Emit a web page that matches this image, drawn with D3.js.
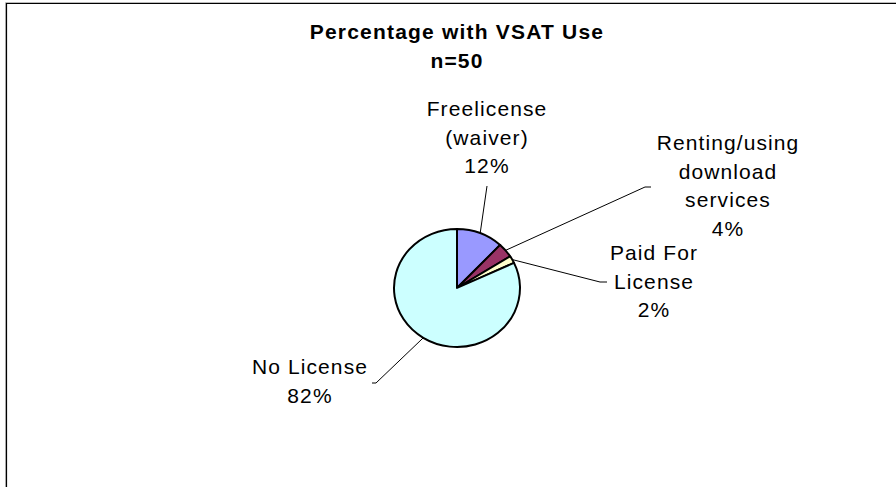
<!DOCTYPE html>
<html>
<head>
<meta charset="utf-8">
<script src="https://cdn.jsdelivr.net/npm/d3@7"></script>
<style>
  html, body { margin: 0; padding: 0; background: #fff; }
  svg { display: block; }
  text { font-family: "Liberation Sans", Arial, sans-serif; fill: #000; }
</style>
</head>
<body>
<div id="chart"></div>
<script>
'use strict';

// chart data
var categories = ["Freelicense (waiver)", "Renting/using download services", "Paid For License", "No License"];
var values = [12, 4, 2, 82];
var labelLines = [
  ["Freelicense", "(waiver)"],
  ["Renting/using", "download", "services"],
  ["Paid For", "License"],
  ["No License"]
];
var colors = ["#9999FF", "#993366", "#FFFFCC", "#CCFFFF"];
var title = "Percentage with VSAT Use";
var subtitle = "n=50";

// label layout (where the text block sits and where the leader line ends)
var labelLayout = [
  { x: 487, y: 116, lineEnd: [487, 186], tick: 0 },
  { x: 728, y: 150, lineEnd: [645, 187], tick: 6 },
  { x: 654, y: 260, lineEnd: [600, 282], tick: 7 },
  { x: 310, y: 374, lineEnd: [376, 383], tick: -4 }
];

var width = 896, height = 487;
var cx = 457, cy = 288, r = 63, squash = 0.937;
var lineH = 28.5;

var svg = d3.select("#chart").append("svg")
    .attr("width", width)
    .attr("height", height);

svg.append("rect").attr("width", width).attr("height", height).attr("fill", "#fff");

// frame (right and bottom edges fall outside the picture)
svg.append("path")
    .attr("d", "M5.5," + height + "V2.5H" + width)
    .attr("fill", "none").attr("stroke", "#bbb").attr("stroke-width", 1);
svg.append("path")
    .attr("d", "M6.5," + height + "V3.5H" + width)
    .attr("fill", "none").attr("stroke", "#000").attr("stroke-width", 1.2);

// title
svg.append("text")
    .attr("x", cx).attr("y", 39)
    .attr("text-anchor", "middle")
    .style("font-size", "21px").style("font-weight", "bold").style("letter-spacing", "1.2px")
    .text(title);
svg.append("text")
    .attr("x", cx).attr("y", 68)
    .attr("text-anchor", "middle")
    .style("font-size", "21px").style("font-weight", "bold").style("letter-spacing", "1.2px")
    .text(subtitle);

var pie = d3.pie().sort(null).value(function(d) { return d; });
var arcs = pie(values);
var arc = d3.arc().innerRadius(0).outerRadius(r);
var edge = d3.arc().innerRadius(r).outerRadius(r);

var g = svg.append("g")
    .attr("transform", "translate(" + cx + "," + cy + ") scale(1," + squash + ")");

g.selectAll("path.slice")
    .data(arcs)
  .enter().append("path")
    .attr("class", "slice")
    .attr("d", arc)
    .attr("fill", function(d, i) { return colors[i]; })
    .attr("stroke", "#000")
    .attr("stroke-width", 2)
    .attr("stroke-linejoin", "round");

// leader lines
arcs.forEach(function(d, i) {
  var c = edge.centroid(d);
  var sx = cx + c[0], sy = cy + c[1] * squash;
  var L = labelLayout[i];
  var pts = [[sx, sy], L.lineEnd];
  if (L.tick) pts.push([L.lineEnd[0] + L.tick, L.lineEnd[1]]);
  svg.append("path")
      .attr("d", d3.line()(pts))
      .attr("fill", "none")
      .attr("stroke", "#000")
      .attr("stroke-width", 1);
});

// labels
arcs.forEach(function(d, i) {
  var L = labelLayout[i];
  var lines = labelLines[i].concat([Math.round(d.value / d3.sum(values) * 100) + "%"]);
  var t = svg.append("text")
      .attr("text-anchor", "middle")
      .style("font-size", "21px")
      .style("letter-spacing", "1.1px");
  lines.forEach(function(s, k) {
    t.append("tspan")
        .attr("x", L.x)
        .attr("y", L.y + k * lineH)
        .text(s);
  });
});
</script>
</body>
</html>
